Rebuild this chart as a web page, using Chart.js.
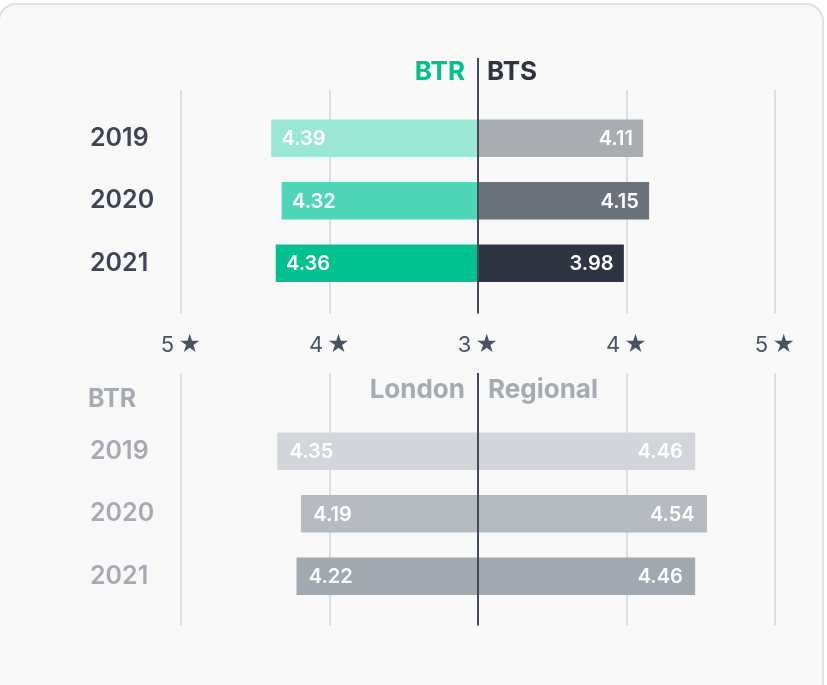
<!DOCTYPE html>
<html>
<head>
<meta charset="utf-8">
<script src="https://cdn.jsdelivr.net/npm/chart.js@4"></script>
<style>
  html, body { margin: 0; padding: 0; background: #fff; }
  body { width: 827px; height: 685px; position: relative; overflow: hidden; }
  .card {
    position: absolute; left: -2px; top: 3px; width: 826px; height: 700px;
    background: #f8f8f8; border: 2px solid #e0e0e2; border-radius: 18px; box-sizing: border-box;
  }
  canvas { position: absolute; left: 0; }
  #top { top: 0; }
  #bottom { top: 360px; }
</style>
</head>
<body>
<div class="card"></div>
<canvas id="top" width="827" height="360"></canvas>
<canvas id="bottom" width="827" height="325"></canvas>
<script>
// data
const years = ["2019", "2020", "2021"];
const btr = [4.39, 4.32, 4.36];
const bts = [4.11, 4.15, 3.98];
const london = [4.35, 4.19, 4.22];
const regional = [4.46, 4.54, 4.46];
const starLabels = ["5\u2009★", "4\u2009★", "3\u2009★", "4\u2009★", "5\u2009★"];

const FONT = "Inter, 'Open Sans', sans-serif";
const btrColors = ["#9be7d6", "#4fd6b8", "#00c190"];
const btsColors = ["#a9acb1", "#6b727c", "#2e3442"];
const greyColors = ["#d2d5da", "#b6bac1", "#a2a8b0"];

// left side is drawn as negative distance from 3 stars
const toLeft = (arr) => arr.map((v) => -(v - 3));
const toRight = (arr) => arr.map((v) => v - 3);

// grid lines, centre line, headers and bar value labels
const decorPlugin = {
  id: "decor",
  beforeDatasetsDraw(chart, args, opts) {
    const { ctx, chartArea } = chart;
    const x = chart.scales.x;
    ctx.save();
    ctx.lineWidth = 2;
    ctx.strokeStyle = "#dcdee2";
    [-2, -1, 1, 2].forEach((v) => {
      const px = Math.round(x.getPixelForValue(v));
      ctx.beginPath();
      ctx.moveTo(px, chartArea.top - opts.gridTop);
      ctx.lineTo(px, chartArea.bottom + opts.gridBottom);
      ctx.stroke();
    });
    ctx.restore();
  },
  afterDatasetsDraw(chart, args, opts) {
    const { ctx, chartArea } = chart;
    const x = chart.scales.x;
    const cx = Math.round(x.getPixelForValue(0));
    ctx.save();
    // value labels
    ctx.font = "600 20px " + FONT;
    ctx.fillStyle = "#ffffff";
    ctx.textBaseline = "middle";
    chart.data.datasets.forEach((ds, i) => {
      const meta = chart.getDatasetMeta(i);
      meta.data.forEach((bar, j) => {
        const val = ds.raw[j].toFixed(2);
        if (ds.side === "left") {
          ctx.textAlign = "left";
          ctx.fillText(val, bar.x + opts.labelPad, bar.y + 1);
        } else {
          ctx.textAlign = "right";
          ctx.fillText(val, bar.x - opts.labelPad, bar.y + 1);
        }
      });
    });
    // centre line
    ctx.strokeStyle = "#434b5a";
    ctx.lineWidth = 2;
    ctx.beginPath();
    ctx.moveTo(cx, chartArea.top - opts.centreTop);
    ctx.lineTo(cx, chartArea.bottom + opts.gridBottom);
    ctx.stroke();
    // headers
    ctx.font = "700 " + opts.headSize + "px " + FONT;
    ctx.textBaseline = "middle";
    ctx.textAlign = "right";
    ctx.fillStyle = opts.leftColor;
    ctx.fillText(opts.leftHead, cx - opts.headGapL, chartArea.top - opts.headY);
    ctx.textAlign = "left";
    ctx.fillStyle = opts.rightColor;
    ctx.fillText(opts.rightHead, cx + opts.headGapR, chartArea.top - opts.headY);
    if (opts.corner) {
      ctx.fillStyle = opts.cornerColor;
      ctx.font = "700 25px " + FONT;
      ctx.fillText(opts.corner, 88, chartArea.top - opts.cornerY);
    }
    ctx.restore();
  }
};

function makeChart(canvasId, leftVals, rightVals, leftColors, rightColors, cfg) {
  return new Chart(document.getElementById(canvasId), {
    type: "bar",
    data: {
      labels: years,
      datasets: [
        { data: toLeft(leftVals), raw: leftVals, side: "left", backgroundColor: leftColors, barThickness: 37 },
        { data: toRight(rightVals), raw: rightVals, side: "right", backgroundColor: rightColors, barThickness: 37 }
      ]
    },
    options: {
      indexAxis: "y",
      responsive: false,
      animation: false,
      devicePixelRatio: 1,
      layout: { padding: { top: cfg.padTop, left: 90, right: 52, bottom: cfg.padBottom } },
      scales: {
        x: {
          min: -2,
          max: 2,
          stacked: true,
          display: cfg.showX,
          grid: { display: false },
          border: { display: false },
          ticks: {
            stepSize: 1,
            padding: 30,
            color: "#4a5261",
            font: { family: FONT, size: 22 },
            callback: (v) => starLabels[v + 2]
          },
          afterFit: (scale) => { scale.height = cfg.xHeight; }
        },
        y: {
          stacked: true,
          grid: { display: false },
          border: { display: false },
          ticks: {
            crossAlign: "far",
            padding: 0,
            color: cfg.yearColor,
            font: { family: FONT, size: 25, weight: "600" }
          },
          afterFit: (scale) => { scale.width = 91; }
        }
      },
      plugins: {
        legend: { display: false },
        tooltip: { enabled: false },
        decor: cfg.decor
      }
    },
    plugins: [decorPlugin]
  });
}

makeChart("top", btr, bts, btrColors, btsColors, {
  padTop: 107,
  padBottom: 0,
  showX: true,
  xHeight: 65.5,
  yearColor: "#3d4555",
  decor: {
    gridTop: 17, gridBottom: 19, centreTop: 49, labelPad: 10,
    headSize: 26, headY: 35, headGapL: 13, headGapR: 9,
    leftHead: "BTR", rightHead: "BTS", leftColor: "#00c08b", rightColor: "#2d3340"
  }
});

makeChart("bottom", london, regional, greyColors, greyColors, {
  padTop: 60,
  padBottom: 77.5,
  showX: false,
  xHeight: 0,
  yearColor: "#a6abb3",
  decor: {
    gridTop: 47, gridBottom: 18, centreTop: 47, labelPad: 12,
    headSize: 26, headY: 30, headGapL: 13, headGapR: 10,
    leftHead: "London", rightHead: "Regional", leftColor: "#a6abb3", rightColor: "#a6abb3",
    corner: "BTR", cornerColor: "#a6abb3", cornerY: 21
  }
});
</script>
</body>
</html>
